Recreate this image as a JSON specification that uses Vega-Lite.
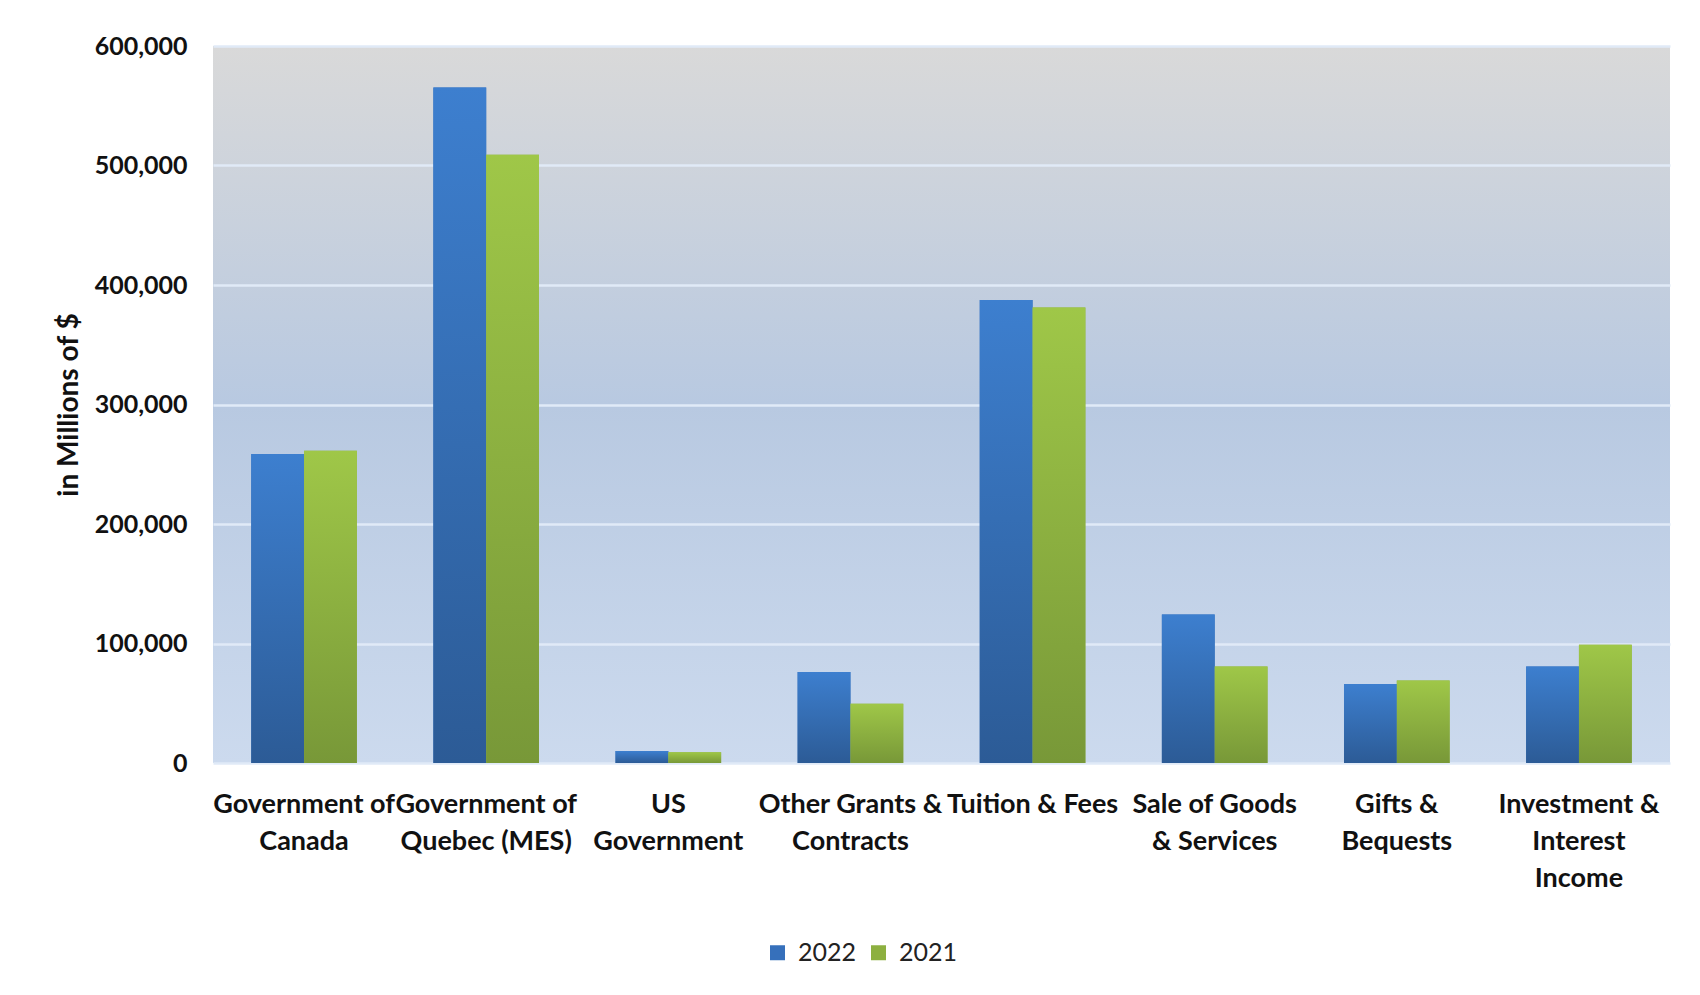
{
  "$schema": "https://vega.github.io/schema/vega-lite/v6.json",
  "width": 1457,
  "height": 717,
  "padding": {"left": 55, "top": 34, "right": 30, "bottom": 5},
  "background": "#ffffff",
  "config": {
    "font": "Lato",
    "view": {
      "stroke": null,
      "fill": {
        "gradient": "linear", "x1": 0, "y1": 0, "x2": 0, "y2": 1,
        "stops": [
          {"offset": 0, "color": "#d9d9d9"},
          {"offset": 0.5, "color": "#b8c9e1"},
          {"offset": 1, "color": "#ccdaee"}
        ]
      }
    },
    "axis": {"labelFont": "Lato", "titleFont": "Lato", "labelColor": "#111111", "titleColor": "#111111"}
  },
  "data": {
    "values": [
      {"source": "Government of Canada", "year": "2022", "amount": 258600},
      {"source": "Government of Canada", "year": "2021", "amount": 261300},
      {"source": "Government of Quebec (MES)", "year": "2022", "amount": 565300},
      {"source": "Government of Quebec (MES)", "year": "2021", "amount": 509000},
      {"source": "US Government", "year": "2022", "amount": 10000},
      {"source": "US Government", "year": "2021", "amount": 9000},
      {"source": "Other Grants & Contracts", "year": "2022", "amount": 76200},
      {"source": "Other Grants & Contracts", "year": "2021", "amount": 49500},
      {"source": "Tuition & Fees", "year": "2022", "amount": 387500},
      {"source": "Tuition & Fees", "year": "2021", "amount": 381100},
      {"source": "Sale of Goods & Services", "year": "2022", "amount": 124300},
      {"source": "Sale of Goods & Services", "year": "2021", "amount": 80800},
      {"source": "Gifts & Bequests", "year": "2022", "amount": 66200},
      {"source": "Gifts & Bequests", "year": "2021", "amount": 69000},
      {"source": "Investment & Interest Income", "year": "2022", "amount": 80800},
      {"source": "Investment & Interest Income", "year": "2021", "amount": 98900}
    ]
  },
  "encoding": {
    "x": {
      "field": "source", "type": "nominal", "sort": null,
      "scale": {"paddingInner": 0.42, "paddingOuter": 0.21},
      "axis": {
        "title": null, "domain": false, "ticks": false, "labelAngle": 0,
        "labelFontSize": 27, "labelFontWeight": "bold", "labelLimit": 0,
        "labelPadding": 28, "labelLineHeight": 37, "labelBaseline": "top",
        "labelExpr": "{'Government of Canada': ['Government of', 'Canada'], 'Government of Quebec (MES)': ['Government of', 'Quebec (MES)'], 'US Government': ['US', 'Government'], 'Other Grants & Contracts': ['Other Grants &', 'Contracts'], 'Tuition & Fees': ['Tuition & Fees'], 'Sale of Goods & Services': ['Sale of Goods', '& Services'], 'Gifts & Bequests': ['Gifts &', 'Bequests'], 'Investment & Interest Income': ['Investment &', 'Interest', 'Income']}[datum.value]"
      }
    },
    "xOffset": {"field": "year", "type": "nominal", "sort": ["2022", "2021"], "scale": {"domain": ["2022", "2021"], "paddingInner": 0}},
    "y": {
      "field": "amount", "type": "quantitative",
      "scale": {"domain": [0, 600000], "nice": false},
      "axis": {
        "title": "in Millions of $", "titleFontSize": 28, "titleFontWeight": "bold", "titlePadding": 11,
        "values": [0, 100000, 200000, 300000, 400000, 500000, 600000], "format": ",.0f",
        "domain": false, "ticks": false, "labelPadding": 26,
        "labelFontSize": 25, "labelFontWeight": "bold",
        "grid": true, "gridColor": "#e0eaf7", "gridWidth": 2.5
      }
    }
  },
  "layer": [
    {
      "mark": {"type": "bar"},
      "encoding": {
        "color": {
          "field": "year", "type": "nominal",
          "scale": {"domain": ["2022", "2021"], "range": ["#3670bb", "#8db040"]},
          "legend": {
            "title": null, "orient": "none", "direction": "horizontal",
            "legendX": 552, "legendY": 894, "padding": 0,
            "symbolType": "square", "symbolSize": 225, "symbolStrokeWidth": 0,
            "labelFontSize": 25, "labelFont": "Lato", "labelColor": "#222222",
            "labelOffset": 8, "columnPadding": 9
          }
        }
      }
    },
    {
      "mark": {"type": "bar"},
      "encoding": {
        "color": {
          "condition": {
            "test": "datum.year === '2022'",
            "value": {"gradient": "linear", "x1": 0, "y1": 0, "x2": 0, "y2": 1, "stops": [{"offset": 0, "color": "#3d7fcf"}, {"offset": 1, "color": "#2c5b96"}]}
          },
          "value": {"gradient": "linear", "x1": 0, "y1": 0, "x2": 0, "y2": 1, "stops": [{"offset": 0, "color": "#9fc748"}, {"offset": 1, "color": "#789838"}]}
        }
      }
    }
  ]
}
